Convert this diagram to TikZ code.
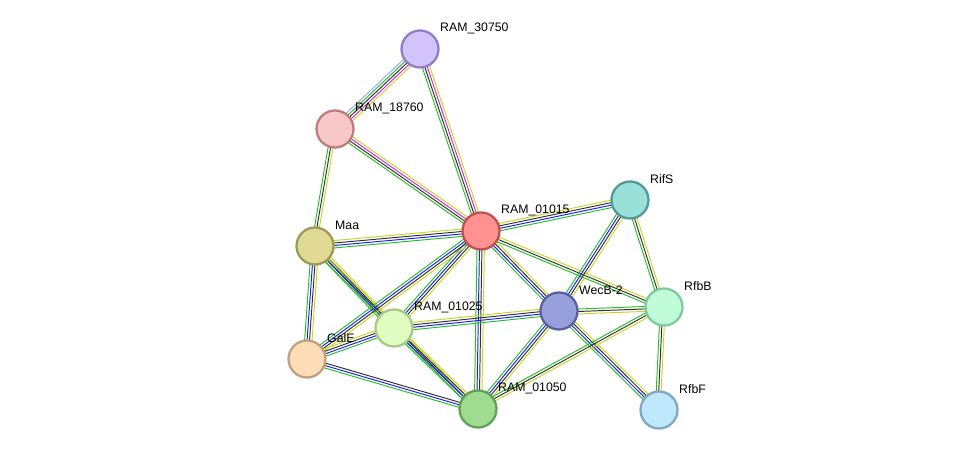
\documentclass[tikz,border=0pt]{standalone}
\usepackage{fontspec}
\setmainfont{Liberation Sans}
\usetikzlibrary{calc,backgrounds}
\definecolor{evgreen}{RGB}{40, 190, 40}
\definecolor{evblue}{RGB}{30, 30, 240}
\definecolor{evblack}{RGB}{50, 50, 50}
\definecolor{evyellow}{RGB}{195, 215, 40}
\definecolor{evpink}{RGB}{210, 40, 210}
\definecolor{evsky}{RGB}{150, 170, 250}

% one line per evidence channel, side by side
\newcommand{\evlink}[3]{%
  \foreach \c [count=\k] in {#3} {
    \draw[line width=0.55pt, \c] ($(#1)!{(\k-2.5)*1.4pt}!90:(#2)$) -- ($(#2)!{(\k-2.5)*1.4pt}!-90:(#1)$);
  }}

\begin{document}
\begin{tikzpicture}[x=0.02cm, y=0.02cm,
    prot/.style={circle, minimum size=0.74cm, inner sep=0pt, line width=1.3pt},
    tag/.style={anchor=west, font=\fontsize{7}{8}\selectfont}]
  \useasboundingbox (0,0) rectangle (975,456);

  % Proteins
  \node[prot, fill={rgb,255:red,210;green,195;blue,250}, draw={rgb,255:red,145;green,125;blue,195}] (r30750) at (420,407) {};
  \node[prot, fill={rgb,255:red,248;green,200;blue,200}, draw={rgb,255:red,190;green,125;blue,125}] (r18760) at (335,327) {};
  \node[prot, fill={rgb,255:red,255;green,145;blue,145}, draw={rgb,255:red,190;green,80;blue,80}] (r01015) at (481,225) {};
  \node[prot, fill={rgb,255:red,152;green,224;blue,216}, draw={rgb,255:red,80;green,155;blue,150}] (rifs) at (630,256) {};
  \node[prot, fill={rgb,255:red,224;green,218;blue,148}, draw={rgb,255:red,155;green,155;blue,85}] (maa) at (315,210) {};
  \node[prot, fill={rgb,255:red,152;green,160;blue,220}, draw={rgb,255:red,88;green,96;blue,160}] (wecb) at (559,145) {};
  \node[prot, fill={rgb,255:red,192;green,252;blue,216}, draw={rgb,255:red,128;green,200;blue,160}] (rfbb) at (664,149) {};
  \node[prot, fill={rgb,255:red,224;green,252;blue,192}, draw={rgb,255:red,168;green,200;blue,136}] (r01025) at (394,128) {};
  \node[prot, fill={rgb,255:red,253;green,220;blue,184}, draw={rgb,255:red,192;green,160;blue,128}] (gale) at (307,97) {};
  \node[prot, fill={rgb,255:red,160;green,220;blue,144}, draw={rgb,255:red,96;green,160;blue,88}] (r01050) at (478,47) {};
  \node[prot, fill={rgb,255:red,192;green,232;blue,252}, draw={rgb,255:red,128;green,168;blue,192}] (rfbf) at (659,46) {};

  % Names
  \node[tag] (t30750) at ($(r30750)+(14,21)$) {RAM\_30750};
  \node[tag] (t18760) at ($(r18760)+(14,21)$) {RAM\_18760};
  \node[tag] (t01015) at ($(r01015)+(14,21)$) {RAM\_01015};
  \node[tag] (trifs) at ($(rifs)+(14,21)$) {RifS};
  \node[tag] (tmaa) at ($(maa)+(14,21)$) {Maa};
  \node[tag] (twecb) at ($(wecb)+(14,21)$) {WecB-2};
  \node[tag] (trfbb) at ($(rfbb)+(14,21)$) {RfbB};
  \node[tag] (t01025) at ($(r01025)+(14,21)$) {RAM\_01025};
  \node[tag] (tgale) at ($(gale)+(14,21)$) {GalE};
  \node[tag] (t01050) at ($(r01050)+(14,21)$) {RAM\_01050};
  \node[tag] (trfbf) at ($(rfbf)+(14,21)$) {RfbF};

  % Links
  \begin{scope}[on background layer]
    \evlink{r30750}{r18760}{evsky,evgreen,evblack,evpink,evyellow}
    \evlink{r30750}{r01015}{evgreen,evblack,evpink,evyellow}
    \evlink{r18760}{r01015}{evgreen,evblack,evpink,evyellow}
    \evlink{r18760}{maa}{evgreen,evblack,evyellow}
    \evlink{maa}{r01015}{evgreen,evblue,evblack,evyellow}
    \evlink{maa}{r01025}{evgreen,evblue,evblack,evyellow}
    \evlink{maa}{gale}{evgreen,evblue,evblack,evyellow}
    \evlink{maa}{r01050}{evgreen,evblack,evyellow}
    \evlink{r01015}{r01025}{evgreen,evblue,evblack,evyellow}
    \evlink{r01015}{gale}{evgreen,evblue,evblack,evyellow}
    \evlink{r01015}{r01050}{evgreen,evblue,evblack,evyellow}
    \evlink{r01015}{wecb}{evgreen,evblue,evblack,evyellow}
    \evlink{r01015}{rifs}{evgreen,evblue,evblack,evyellow}
    \evlink{r01015}{rfbb}{evgreen,evblack,evyellow}
    \evlink{gale}{r01025}{evgreen,evblue,evblack,evyellow}
    \evlink{gale}{r01050}{evgreen,evblue,evblack}
    \evlink{r01025}{r01050}{evgreen,evblue,evblack,evyellow}
    \evlink{r01025}{wecb}{evgreen,evblue,evblack,evyellow}
    \evlink{wecb}{rifs}{evyellow,evblack,evblue,evgreen}
    \evlink{wecb}{rfbb}{evyellow,evblack,evgreen}
    \evlink{wecb}{r01050}{evgreen,evblue,evblack,evyellow}
    \evlink{wecb}{rfbf}{evgreen,evblue,evblack,evyellow}
    \evlink{rifs}{rfbb}{evgreen,evblack,evyellow}
    \evlink{rfbb}{rfbf}{evgreen,evblack,evyellow}
    \evlink{rfbb}{r01050}{evgreen,evblack,evyellow}
  \end{scope}
\end{tikzpicture}
\end{document}
